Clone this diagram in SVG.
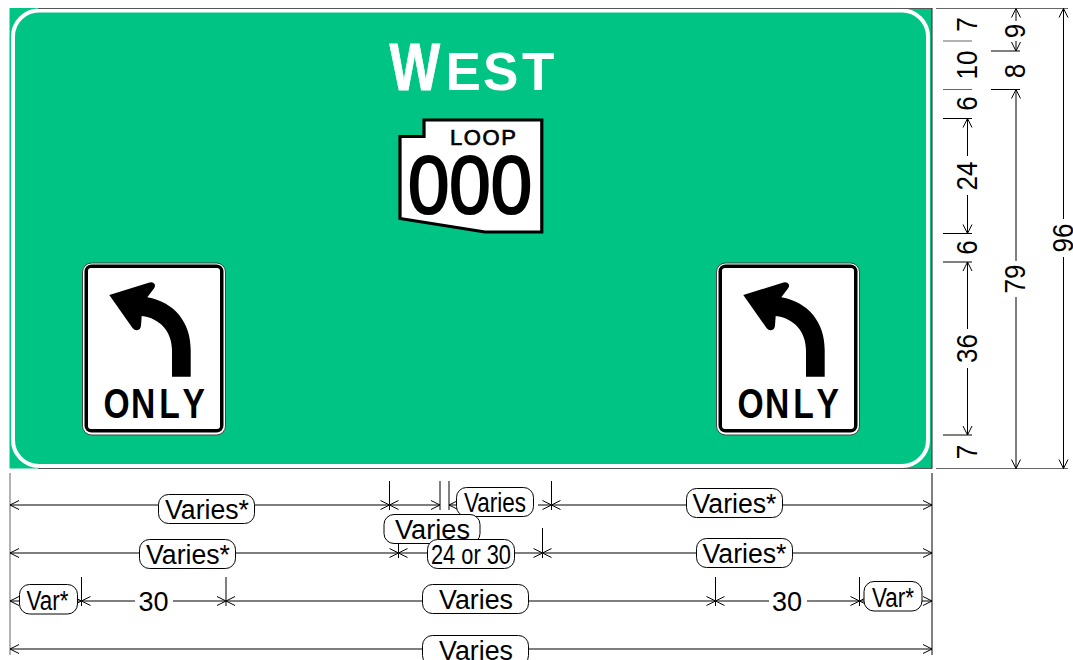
<svg xmlns="http://www.w3.org/2000/svg" width="1073" height="660" viewBox="0 0 1073 660">
<style>
text{font-family:"Liberation Sans",Arial,sans-serif;fill:#000}
.d{font-size:27px;text-anchor:middle}
.r{font-size:26px;text-anchor:middle}
.pill{fill:#fff;stroke:#000;stroke-width:1}
.v{stroke:#000;stroke-width:1;fill:none}
.g{stroke:#555;stroke-width:1.5;fill:none}
.tk{stroke:#000;stroke-width:1;fill:none}
.tg{stroke:#666;stroke-width:1;fill:none}
.a{marker-start:url(#ah);marker-end:url(#ah)}
.as{marker-start:url(#ah)}
.ae{marker-end:url(#ah)}
.only{font-size:42px;font-weight:700}
.wh{fill:#fff;font-weight:700}
</style>
<defs>
<marker id="ah" markerUnits="userSpaceOnUse" markerWidth="12" markerHeight="12" viewBox="-10 -6 12 12" refX="0" refY="0" orient="auto-start-reverse" overflow="visible"><path d="M-9,-4.5L0,0L-9,4.5" fill="none" stroke="#000" stroke-width="1"/></marker>
<path id="arrow" d="M109.3,295L149.5,282.6Q153,281.6 154.6,284Q155.6,286 154.3,288L147.3,297.3C174,302 190.7,322 190.7,350V376.7H172V350C172,332 160,318 141.7,316L141,325.5Q140.5,330 137,330.2Q134.5,330.4 132.5,328Z"/>
<g id="regsign">
<rect x="82.5" y="263" width="143" height="172" rx="9" fill="#fff" stroke="#444" stroke-width="1"/>
<rect x="84.5" y="264.5" width="139" height="168" rx="7" fill="#000"/>
<rect x="88" y="268" width="132" height="161" rx="3" fill="#fff"/>
<use href="#arrow"/>
</g>
</defs>
<rect width="1073" height="660" fill="#fff"/>
<g id="panel">
<rect x="9.5" y="8" width="922.5" height="460.5" fill="#00c484"/>
<rect x="13" y="10.5" width="915" height="455.5" rx="26" fill="#00c484" stroke="#fff" stroke-width="4"/>
<path d="M38,8.5H932M38,468.5H932" stroke="#555" stroke-width="1.2" fill="none"/>
<path d="M932,8V468.5" stroke="#222" stroke-width="1" fill="none"/>
</g>
<g id="destination">
<text class="wh" transform="translate(389.5,90) scale(.8,1)" font-size="67" stroke="#fff" stroke-width=".8">W</text>
<text class="wh" y="90" font-size="53"><tspan x="445.5">E</tspan><tspan x="483">S</tspan><tspan x="522">T</tspan></text>
</g>
<g id="route-shield">
<path d="M424,120H541.8V232H485L400,218.5V136.5H424Z" fill="#fff" stroke="#000" stroke-width="3.2"/>
<text x="483" y="144.5" font-size="22" text-anchor="middle" textLength="66" lengthAdjust="spacing" stroke="#000" stroke-width=".7">LOOP</text>
<text x="470" y="212.5" font-size="82" text-anchor="middle" textLength="124" lengthAdjust="spacingAndGlyphs" stroke="#000" stroke-width="2.2">000</text>
</g>
<g id="sign-left">
<use href="#regsign"/>
<text class="only" transform="translate(100,418) scale(.8,1)" x="4.5 38.7 74 103" y="0">ONLY</text>
</g>
<g id="sign-right">
<use href="#regsign" x="634"/>
<text class="only" transform="translate(734,418) scale(.8,1)" x="4.5 38.7 74 103" y="0">ONLY</text>
</g>
<g id="connectors">
<path class="tg" d="M936,8.5H1068M936,468.5H1068" stroke-width="1.3"/>
<path class="tg" d="M943,41H972M943,89.5H972"/>
<path class="tk" d="M943,118.5H972M943,233.5H972M943,262H972M943,435H972M991,51H1020M991,89.5H1020"/>
<path class="v as" d="M967.5,118.5V156"/><path class="v ae" d="M967.5,195V233.5"/>
<path class="v as" d="M967.5,262V329"/><path class="v ae" d="M967.5,368V435"/>
<path class="v as" d="M1016,8.5V21"/><path class="v ae" d="M1016,41V51"/>
<path class="v as" d="M1016,89.5V261"/><path class="v ae" d="M1016,297V468.5"/>
<path class="v as" d="M1063.5,8.5V219"/><path class="v ae" d="M1063.5,257V468.5"/>
<path class="tg" d="M10,473V655" stroke-width="1.3"/>
<path class="tk" d="M932,473V655"/>
<path class="tk" d="M389.5,481V510M440,481V510M449,481V510M551.5,481V510M398.5,530V558M542.5,528V558M81.5,577V606M226,577V606M715.5,577V606M859.5,577V606"/>
<path class="g a" d="M10,505H389.5"/><path class="g a" d="M389.5,505H440"/><path class="g as" d="M449,505H458"/><path class="g ae" d="M538,505H551.5"/><path class="g a" d="M551.5,505H932"/>
<path class="g a" d="M10,553H398.5"/><path class="g a" d="M398.5,553H542.5"/><path class="g a" d="M542.5,553H932"/>
<path class="g a" d="M10,601H81.5"/><path class="g a" d="M81.5,601H226"/><path class="g a" d="M226,601H715.5"/><path class="g a" d="M715.5,601H859.5"/><path class="g a" d="M859.5,601H932"/>
<path class="g a" d="M10,649H932"/>
</g>
<g id="dimensions-right">
<text class="r" transform="translate(977,24.5) rotate(-90) scale(1,1.12)">7</text>
<text class="r" transform="translate(977,65) rotate(-90) scale(1,1.12)">10</text>
<text class="r" transform="translate(977,103.5) rotate(-90) scale(1,1.12)">6</text>
<text class="r" transform="translate(977,176) rotate(-90) scale(1,1.12)">24</text>
<text class="r" transform="translate(977,247.5) rotate(-90) scale(1,1.12)">6</text>
<text class="r" transform="translate(977,348.5) rotate(-90) scale(1,1.12)">36</text>
<text class="r" transform="translate(977,452) rotate(-90) scale(1,1.12)">7</text>
<text class="r" transform="translate(1025,31) rotate(-90) scale(1,1.12)">9</text>
<text class="r" transform="translate(1025,71) rotate(-90) scale(1,1.12)">8</text>
<text class="r" transform="translate(1025,279) rotate(-90) scale(1,1.12)">79</text>
<text class="r" transform="translate(1072.5,238) rotate(-90) scale(1,1.12)">96</text>
</g>
<g id="dimensions-bottom">
<rect class="pill" x="158.5" y="494.5" width="96" height="29" rx="10"/><text class="d" x="207" y="519" textLength="84" lengthAdjust="spacingAndGlyphs">Varies*</text>
<rect class="pill" x="139.5" y="539.5" width="96" height="29" rx="10"/><text class="d" x="188" y="564" textLength="84" lengthAdjust="spacingAndGlyphs">Varies*</text>
<rect class="pill" x="19.5" y="584.5" width="58" height="29.5" rx="10"/><text class="d" x="47.5" y="609.5" textLength="42" lengthAdjust="spacingAndGlyphs">Var*</text>
<rect x="135" y="590" width="38" height="22" fill="#fff"/><text class="d" x="153.5" y="611">30</text>
<rect class="pill" x="456.5" y="487.5" width="77" height="29" rx="10"/><text class="d" x="495" y="512" textLength="62" lengthAdjust="spacingAndGlyphs">Varies</text>
<rect class="pill" x="384" y="514.5" width="96" height="29" rx="10"/><text class="d" x="432.5" y="538.5" textLength="75" lengthAdjust="spacingAndGlyphs">Varies</text>
<rect class="pill" x="427.5" y="539.5" width="87" height="29" rx="10"/><text class="d" x="471" y="564" textLength="80" lengthAdjust="spacingAndGlyphs">24 or 30</text>
<rect class="pill" x="422.5" y="584.5" width="106" height="29" rx="10"/><text class="d" x="476" y="609" textLength="74" lengthAdjust="spacingAndGlyphs">Varies</text>
<rect class="pill" x="422.5" y="635.5" width="106" height="30" rx="10"/><text class="d" x="476" y="659.5" textLength="74" lengthAdjust="spacingAndGlyphs">Varies</text>
<rect class="pill" x="686.5" y="488.5" width="96" height="29" rx="10"/><text class="d" x="734.5" y="513" textLength="84" lengthAdjust="spacingAndGlyphs">Varies*</text>
<rect class="pill" x="696.5" y="538.5" width="96" height="29" rx="10"/><text class="d" x="744.5" y="562.5" textLength="84" lengthAdjust="spacingAndGlyphs">Varies*</text>
<rect x="769" y="590" width="38" height="22" fill="#fff"/><text class="d" x="787" y="611">30</text>
<rect class="pill" x="864" y="581.5" width="58" height="29.5" rx="10"/><text class="d" x="893" y="607" textLength="42" lengthAdjust="spacingAndGlyphs">Var*</text>
</g>
</svg>
